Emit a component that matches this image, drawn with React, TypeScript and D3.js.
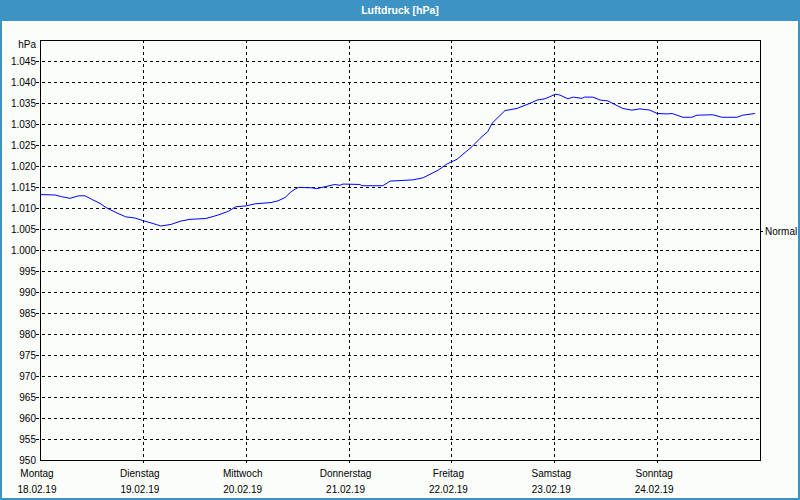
import React from "react";
import * as d3 from "d3";

// Hours since Monday 18.02.2019 00:00
const hours = [0, 3.5, 5, 7, 9, 10.5, 12, 14, 15.4, 18.2, 20, 22.2, 24, 26.4, 28.2, 30.6, 32.9, 35, 38.7, 41.5, 43.9, 45.7, 48.1, 50.2, 53.9, 55.5, 57.2, 58.6, 59.7, 60.4, 63.5, 64.6, 65.8, 68.8, 70, 70.7, 74.7, 75.1, 80, 81.7, 87, 89.4, 92.9, 95, 97.3, 100.8, 102.7, 104.5, 105.5, 108.5, 111.3, 112, 114.3, 116, 117.8, 119, 120.2, 121.3, 123.2, 124.4, 126.5, 127, 129, 130.7, 132.5, 134.6, 136, 138.1, 140, 142.3, 144, 146.3, 147.5, 150, 152.1, 153.3, 157, 159.1, 162.6, 164, 166.8];
const pressure = [1013.2, 1013.1, 1012.7, 1012.3, 1012.9, 1012.9, 1012.1, 1011.1, 1010.1, 1008.7, 1007.9, 1007.6, 1007.0, 1006.3, 1005.7, 1006.1, 1006.9, 1007.3, 1007.5, 1008.3, 1009.2, 1010.3, 1010.5, 1011.0, 1011.3, 1011.7, 1012.5, 1013.9, 1014.6, 1014.9, 1014.8, 1014.6, 1014.9, 1015.6, 1015.4, 1015.7, 1015.6, 1015.3, 1015.3, 1016.4, 1016.7, 1017.2, 1019.0, 1020.5, 1021.6, 1024.6, 1026.6, 1028.2, 1030.2, 1033.2, 1033.7, 1034.0, 1034.9, 1035.7, 1036.0, 1036.5, 1037.1, 1036.9, 1036.0, 1036.4, 1036.1, 1036.4, 1036.4, 1035.7, 1035.5, 1034.4, 1033.7, 1033.3, 1033.6, 1033.3, 1032.5, 1032.4, 1032.5, 1031.6, 1031.6, 1032.1, 1032.2, 1031.6, 1031.6, 1032.1, 1032.5];

const dayNames = ["Montag", "Dienstag", "Mittwoch", "Donnerstag", "Freitag", "Samstag", "Sonntag"];
const yTicks = [950, 955, 960, 965, 970, 975, 980, 985, 990, 995, 1000, 1005, 1010, 1015, 1020, 1025, 1030, 1035, 1040, 1045];
const normalValue = 1004.5;
const title = "Luftdruck [hPa]";
const unit = "hPa";

const W = 800, H = 500;
const L = 40, R = 760, T = 40, B = 460;
const BLUE = "#3d93c4";
const FONT = "'Liberation Sans', Arial, sans-serif";

export default function App() {
  const start = new Date(2019, 1, 18);
  const end = new Date(2019, 1, 25);
  const x = d3.scaleTime().domain([start, end]).range([L, R]);
  const y = d3.scaleLinear().domain([950, 1050]).range([B, T]);
  const data = hours.map((h, i) => ({ t: new Date(start.getTime() + h * 3600e3), v: pressure[i] }));
  const line = d3.line<{ t: Date; v: number }>().x(d => x(d.t)).y(d => y(d.v));
  const days = d3.timeDay.range(start, end);
  const loc = d3.formatLocale({ decimal: ",", thousands: ".", grouping: [3], currency: ["", "€"] });
  const fmtY = loc.format(",");
  const fmtD = d3.timeFormat("%d.%m.%y");

  return (
    <svg width={W} height={H} style={{ position: "absolute", left: 0, top: 0 }} fontFamily={FONT}>
      <rect x={0} y={0} width={W} height={H} fill="#fbfdfb" />
      <rect x={1} y={1} width={W - 2} height={H - 2} fill="none" stroke={BLUE} strokeWidth={2} />
      <rect x={0} y={0} width={W} height={21} fill={BLUE} />
      <text x={400} y={14} textAnchor="middle" fill="#fff" fontWeight="bold" fontSize={10.5}>{title}</text>

      {/* horizontal grid */}
      {yTicks.map(v => (
        <g key={v}>
          {v > 950 && (
            <line x1={36} x2={R} y1={Math.round(y(v)) + 0.5} y2={Math.round(y(v)) + 0.5} stroke="#000" strokeDasharray="3,3" />
          )}
          <text x={36} y={Math.round(y(v))} dy="0.35em" textAnchor="end" fontSize={10} fill="#000">{fmtY(v)}</text>
        </g>
      ))}
      <text x={36} y={T + 4} dy="0.35em" textAnchor="end" fontSize={10} fill="#000">{unit}</text>

      {/* vertical grid + day labels */}
      {days.map((d, i) => (
        <g key={i}>
          {i > 0 && (
            <line x1={Math.round(x(d)) + 0.5} x2={Math.round(x(d)) + 0.5} y1={T} y2={B + 3} stroke="#000" strokeDasharray="3,3" />
          )}
          <text x={x(d) - 3} y={477} textAnchor="middle" fontSize={10} fill="#000">{dayNames[i]}</text>
          <text x={x(d) - 3} y={493} textAnchor="middle" fontSize={10} fill="#000">{fmtD(d)}</text>
        </g>
      ))}

      <rect x={L + 0.5} y={T + 0.5} width={R - L} height={B - T} fill="none" stroke="#000" strokeWidth={1} />

      <path d={line(data) || ""} fill="none" stroke="#0000ff" strokeWidth={1} />

      <line x1={R} x2={R + 3} y1={Math.round(y(normalValue)) + 0.5} y2={Math.round(y(normalValue)) + 0.5} stroke="#000" />
      <text x={R + 5} y={Math.round(y(normalValue))} dy="0.35em" fontSize={10} fill="#000">Normal</text>
    </svg>
  );
}
